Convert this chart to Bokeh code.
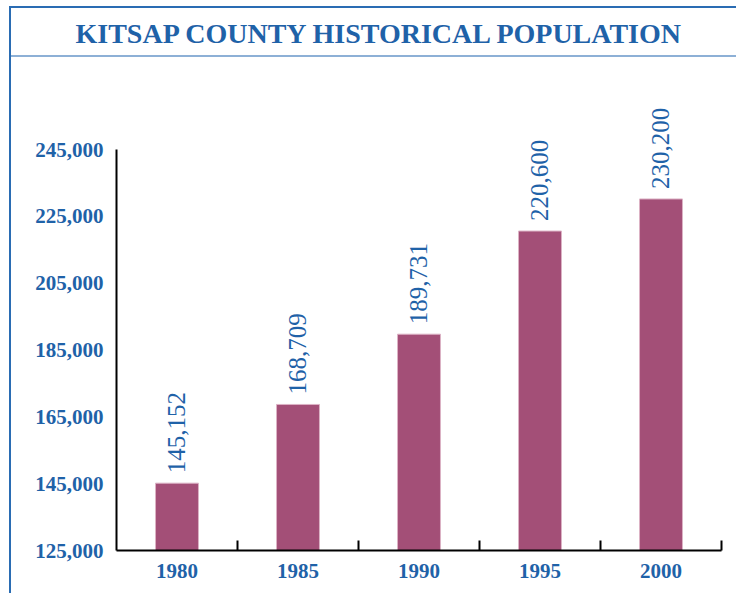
from math import pi
from bokeh.plotting import figure
from bokeh.models import Range1d, FixedTicker, NumeralTickFormatter, LabelSet, ColumnDataSource
from bokeh.embed import file_html
from bokeh.resources import INLINE

years = ["1980", "1985", "1990", "1995", "2000"]
population = [145152, 168709, 189731, 220600, 230200]
y_ticks = [125000, 145000, 165000, 185000, 205000, 225000, 245000]
title_text = "KITSAP COUNTY HISTORICAL POPULATION"

BLUE = "#1f62a8"
BAR = "#a34f77"
SERIF = "Liberation Serif"

# layout (canvas pixels)
W, H = 727, 587
FRAME_TOP, FRAME_BOTTOM = 45, 542
TICK_TOP_PX = 141          # where the highest tick sits
px_per_unit = (FRAME_BOTTOM - TICK_TOP_PX) / (y_ticks[-1] - y_ticks[0])
y_end = y_ticks[0] + (FRAME_BOTTOM - FRAME_TOP) / px_per_unit

idx = list(range(len(years)))
src = ColumnDataSource(dict(x=idx, top=population,
                            label=[f"{v:,}" for v in population]))

p = figure(width=W, height=H, output_backend="svg", toolbar_location=None,
           x_range=Range1d(-0.5, len(years) - 0.5),
           y_range=Range1d(y_ticks[0], y_end),
           min_border_left=105, min_border_right=17,
           min_border_top=FRAME_TOP, min_border_bottom=H - FRAME_BOTTOM)

p.title.text = title_text
p.title.align = "left"
p.title.offset = -41
p.title.text_font = SERIF
p.title.text_font_style = "bold"
p.title.text_font_size = "28px"
p.title.text_color = BLUE
p.title.standoff = 9

p.vbar(x="x", top="top", bottom=y_ticks[0], width=0.355, source=src,
       fill_color=BAR, line_color="#dcb2c5", line_width=1)

labels = LabelSet(x="x", y="top", text="label", source=src, angle=pi / 2,
                  text_align="left", text_baseline="middle", y_offset=10,
                  text_font=SERIF, text_font_size="25px", text_color=BLUE)
p.add_layout(labels)

p.grid.grid_line_color = None
p.outline_line_color = None
p.background_fill_color = None
p.border_fill_color = None

# x axis
xa = p.xaxis[0]
xa.ticker = FixedTicker(ticks=idx, minor_ticks=[i + 0.5 for i in idx])
xa.major_label_overrides = {i: y for i, y in zip(idx, years)}
xa.major_tick_line_color = None
xa.minor_tick_line_color = "black"
xa.minor_tick_line_width = 2
xa.minor_tick_in = 10
xa.minor_tick_out = 0
xa.axis_line_width = 2
xa.axis_line_color = "black"
xa.major_label_standoff = 7
xa.major_label_text_font = SERIF
xa.major_label_text_font_style = "bold"
xa.major_label_text_font_size = "21px"
xa.major_label_text_color = BLUE

# y axis
ya = p.yaxis[0]
ya.bounds = (y_ticks[0], y_ticks[-1])
ya.ticker = FixedTicker(ticks=y_ticks)
ya.formatter = NumeralTickFormatter(format="0,0")
ya.major_tick_line_color = None
ya.minor_tick_line_color = None
ya.axis_line_width = 2
ya.axis_line_color = "black"
ya.major_label_standoff = 7
ya.major_label_text_font = SERIF
ya.major_label_text_font_style = "bold"
ya.major_label_text_font_size = "21px"
ya.major_label_text_color = BLUE

p.styles = {
    "margin-left": "9px",
    "margin-top": "6px",
    "border-top": "2px solid #2a6cb3",
    "border-left": "2px solid #2a6cb3",
    "background-image": "linear-gradient(#8db0d6, #8db0d6)",
    "background-size": "100% 2px",
    "background-position": "0 47px",
    "background-repeat": "no-repeat",
}

open("out.html", "w").write(file_html(p, INLINE))
